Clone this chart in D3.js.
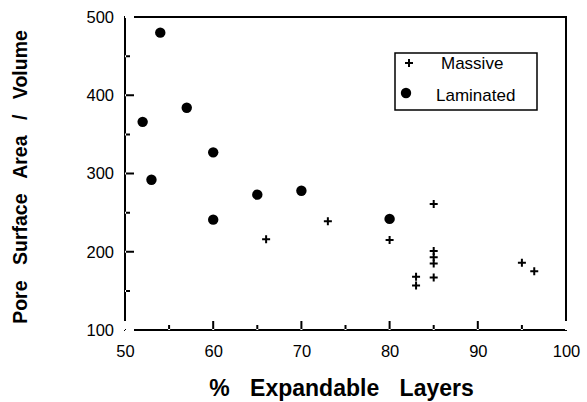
<!DOCTYPE html>
<html>
<head>
<meta charset="utf-8">
<style>
  body { margin: 0; background: #fff; }
  svg { display: block; font-family: "Liberation Sans", Arial, sans-serif; }
  #note { position: absolute; left: 0; top: 0; width: 1px; height: 1px; font-size: 1px; color: #fff; }
</style>
</head>
<body>
<svg width="587" height="402"></svg>
<div id="note">.</div>
<script src="https://d3js.org/d3.v7.min.js"></script>
<script>
// Laminated samples (filled dots)
const laminatedX = [54, 52, 57, 53, 60, 60, 65, 70, 80];
const laminatedY = [480, 366, 384, 292, 327, 241, 273, 278, 242];
// Massive samples (plus marks)
const massiveX = [66, 73, 80, 85, 85, 85, 85, 85, 83, 83, 95, 96.4];
const massiveY = [216, 239, 215, 261, 201, 193, 185, 167, 168, 157, 186, 175];

const xTicks = [50, 60, 70, 80, 90, 100];
const yTicks = [100, 200, 300, 400, 500];
const xMinor = [55, 65, 75, 85, 95];
const yMinor = [150, 250, 350, 450];

const svg = d3.select("svg");
const margin = { top: 17, right: 21, bottom: 72, left: 125 };
const W = 587, H = 402;

const x = d3.scaleLinear().domain([50, 100]).range([margin.left, W - margin.right]);
const y = d3.scaleLinear().domain([100, 500]).range([H - margin.bottom, margin.top]);

// tick labels from the axes
const xAxis = svg.append("g")
  .attr("transform", `translate(0,${y(100)})`)
  .call(d3.axisBottom(x).tickValues(xTicks).tickSize(0));
const yAxis = svg.append("g")
  .attr("transform", `translate(${x(50)},0)`)
  .call(d3.axisLeft(y).tickValues(yTicks).tickSize(0).tickPadding(11));

[xAxis, yAxis].forEach(g => {
  g.select(".domain").remove();
  g.selectAll(".tick line").remove();
  g.selectAll(".tick text").attr("fill", "#000").attr("font-size", 16.5)
    .attr("font-family", "Liberation Sans, Arial, sans-serif");
});
xAxis.selectAll(".tick text").attr("y", 27).attr("dy", 0);

// points
const lam = laminatedX.map((v, i) => ({ x: v, y: laminatedY[i] }));
const mas = massiveX.map((v, i) => ({ x: v, y: massiveY[i] }));

svg.append("g").selectAll("circle").data(lam).join("circle")
  .attr("cx", d => x(d.x)).attr("cy", d => y(d.y)).attr("r", 5.2).attr("fill", "#000");

svg.append("g").selectAll("path").data(mas).join("path")
  .attr("transform", d => `translate(${x(d.x)},${y(d.y)})`)
  .attr("d", "M-4,0H4M0,-4V4")
  .attr("stroke", "#000").attr("stroke-width", 2).attr("fill", "none");

// legend
const lg = svg.append("g").attr("transform", "translate(395,53)");
lg.append("path").attr("d", "M0,0H142V57H0Z")
  .attr("fill", "#fff").attr("stroke", "#000").attr("stroke-width", 1.5);
lg.append("path").attr("d", "M10,10H18M14,6V14").attr("stroke", "#000").attr("stroke-width", 2);
lg.append("text").attr("x", 46).attr("y", 16).attr("font-size", 17).text("Massive");
lg.append("circle").attr("cx", 11).attr("cy", 40).attr("r", 5.2).attr("fill", "#000");
lg.append("text").attr("x", 41).attr("y", 48).attr("font-size", 17).text("Laminated");

// axis titles
const xt = svg.append("text")
  .attr("x", (x(50) + x(100)) / 2 - 4).attr("y", 396)
  .attr("text-anchor", "middle").attr("font-weight", "bold").attr("font-size", 23);
xt.append("tspan").text("% ");
xt.append("tspan").attr("dx", 14).text("Expandable ");
xt.append("tspan").attr("dx", 14).text("Layers");

const yt = svg.append("text")
  .attr("transform", "translate(27,177) rotate(-90)")
  .attr("text-anchor", "middle").attr("font-weight", "bold").attr("font-size", 19.5);
yt.append("tspan").text("Pore ");
yt.append("tspan").attr("dx", 10).text("Surface ");
yt.append("tspan").attr("dx", 10).text("Area ");
yt.append("tspan").attr("dx", 10).text("/ ");
yt.append("tspan").attr("dx", 10).text("Volume");

// frame and inward ticks, drawn as filled shapes, on top
const L = x(50), R = x(100), T = y(500), B = y(100);
let f = `M${L - 1},${T - 1}H${R + 1}V${B + 1}H${L - 1}Z M${L + 1},${T + 1}V${B - 1}H${R - 1}V${T + 1}Z`;
f += xTicks.map(v => `M${x(v) - 1},${B}v-9h2v9Z`).join("");
f += xMinor.map(v => `M${x(v) - 1},${B}v-5h2v5Z`).join("");
f += yTicks.map(v => `M${L},${y(v) - 1}h9v2h-9Z`).join("");
f += yMinor.map(v => `M${L},${y(v) - 1}h5v2h-5Z`).join("");
svg.append("path").attr("d", f).attr("fill", "#000").attr("fill-rule", "evenodd");
</script>
</body>
</html>
